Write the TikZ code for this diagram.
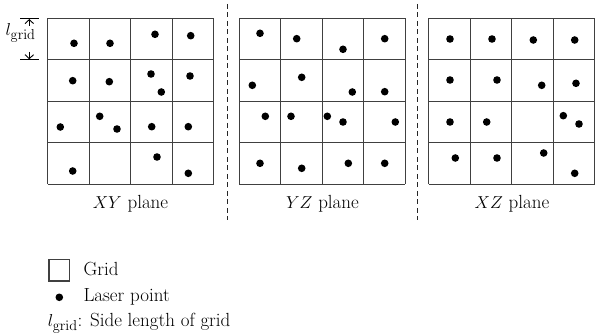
\documentclass[tikz,border=0pt]{standalone}
\usetikzlibrary{arrows.meta}
\begin{document}
\begin{tikzpicture}[x=1pt,y=-1pt,
  gridline/.style={draw=black!75,line width=1.2pt},
  sep/.style={draw=black!85,line width=1pt,dash pattern=on 5pt off 3.5pt},
  dotpt/.style={fill=black},
  lbl/.style={inner sep=0pt,font=\fontsize{19}{22}\selectfont},
  dimarrow/.style={draw=black,line width=0.9pt,-{Straight Barb[length=4pt,width=8.5pt]}}]
\useasboundingbox (0,0) rectangle (595,334);
\def\dotr{3.8}
% XY grid
\begin{scope}[shift={(47.7,18.3)}]
  \foreach \i in {0,1,2,3,4} {
    \draw[gridline] ({41.5*\i},0) -- ({41.5*\i},166);
    \draw[gridline] (0,{41.5*\i}) -- (166,{41.5*\i});
  }
\end{scope}
% YZ grid
\begin{scope}[shift={(239.3,18.3)}]
  \foreach \i in {0,1,2,3,4} {
    \draw[gridline] ({41.5*\i},0) -- ({41.5*\i},166);
    \draw[gridline] (0,{41.5*\i}) -- (166,{41.5*\i});
  }
\end{scope}
% XZ grid
\begin{scope}[shift={(428.6,18.3)}]
  \foreach \i in {0,1,2,3,4} {
    \draw[gridline] ({41.5*\i},0) -- ({41.5*\i},166);
    \draw[gridline] (0,{41.5*\i}) -- (166,{41.5*\i});
  }
\end{scope}
% XY dots
\foreach \p in {(74,43.3),(110,43.3),(155,34.3),(190.7,35.7),
  (72.7,80.7),(109.3,81.7),(151,74),(161.3,92),(190,76),
  (60.3,127),(99.7,116.3),(117,129),(151.7,126.7),(188.3,126.7),
  (72.7,171),(157,157),(188.3,173.3)}
  \fill[dotpt] \p circle (\dotr);
% YZ dots
\foreach \p in {(260,33.3),(296.7,38.7),(343,49.3),(384.7,38.7),
  (252.3,85.3),(301.7,77.3),(352.3,92),(384.7,91.7),
  (265.3,116.3),(291,116.3),(327.3,116.3),(343,122),(395.3,122),
  (260,163.3),(301.7,168.3),(348.3,163.3),(384.7,163.3)}
  \fill[dotpt] \p circle (\dotr);
% XZ dots
\foreach \p in {(450,39),(492,39),(533.3,40),(574.7,40),
  (450,80),(497,80),(541.7,85.3),(576,83.3),
  (450,122),(486.7,122),(563.3,115.7),(579,124),
  (455.3,158),(497,158),(543.7,153),(574.7,173.3)}
  \fill[dotpt] \p circle (\dotr);
% separators
\coordinate (s1t) at (227.7,4); \coordinate (s1b) at (227.7,220);
\coordinate (s2t) at (417.7,4); \coordinate (s2b) at (417.7,220);
\draw[sep] (s1t) -- (s1b);
\draw[sep] (s2t) -- (s2b);
% plane labels
\node[lbl,anchor=base] (xy) at (130.5,208) {$XY$ plane};
\node[lbl,anchor=base] (yz) at (322.5,208) {$YZ$ plane};
\node[lbl,anchor=base] (xz) at (512,208) {$XZ$ plane};
% l_grid dimension
\coordinate (dt1) at (20,18.3); \coordinate (dt2) at (39.3,18.3);
\coordinate (db1) at (20,60); \coordinate (db2) at (39.3,60);
\draw[black,line width=1pt] (dt1) -- (dt2);
\draw[black,line width=1pt] (db1) -- (db2);
\coordinate (au0) at (29.3,26); \coordinate (au1) at (29.3,19);
\coordinate (ad0) at (29.3,52); \coordinate (ad1) at (29.3,59.3);
\draw[dimarrow] (au0) -- (au1);
\draw[dimarrow] (ad0) -- (ad1);
\node[lbl,anchor=base west] (lg) at (5.5,35.5) {$l_{\mathrm{grid}}$};
% legend
\draw[gridline] (49,259.5) rectangle (69.5,281);
\node[lbl,anchor=base west] (lgrid) at (83.3,275.7) {Grid};
\fill[dotpt] (59.3,297.3) circle (\dotr);
\node[lbl,anchor=base west] (llaser) at (83.3,301) {Laser point};
\node[lbl,anchor=base west] (lside) at (47.7,326) {$l_{\mathrm{grid}}$: Side length of grid};
\end{tikzpicture}
\end{document}
